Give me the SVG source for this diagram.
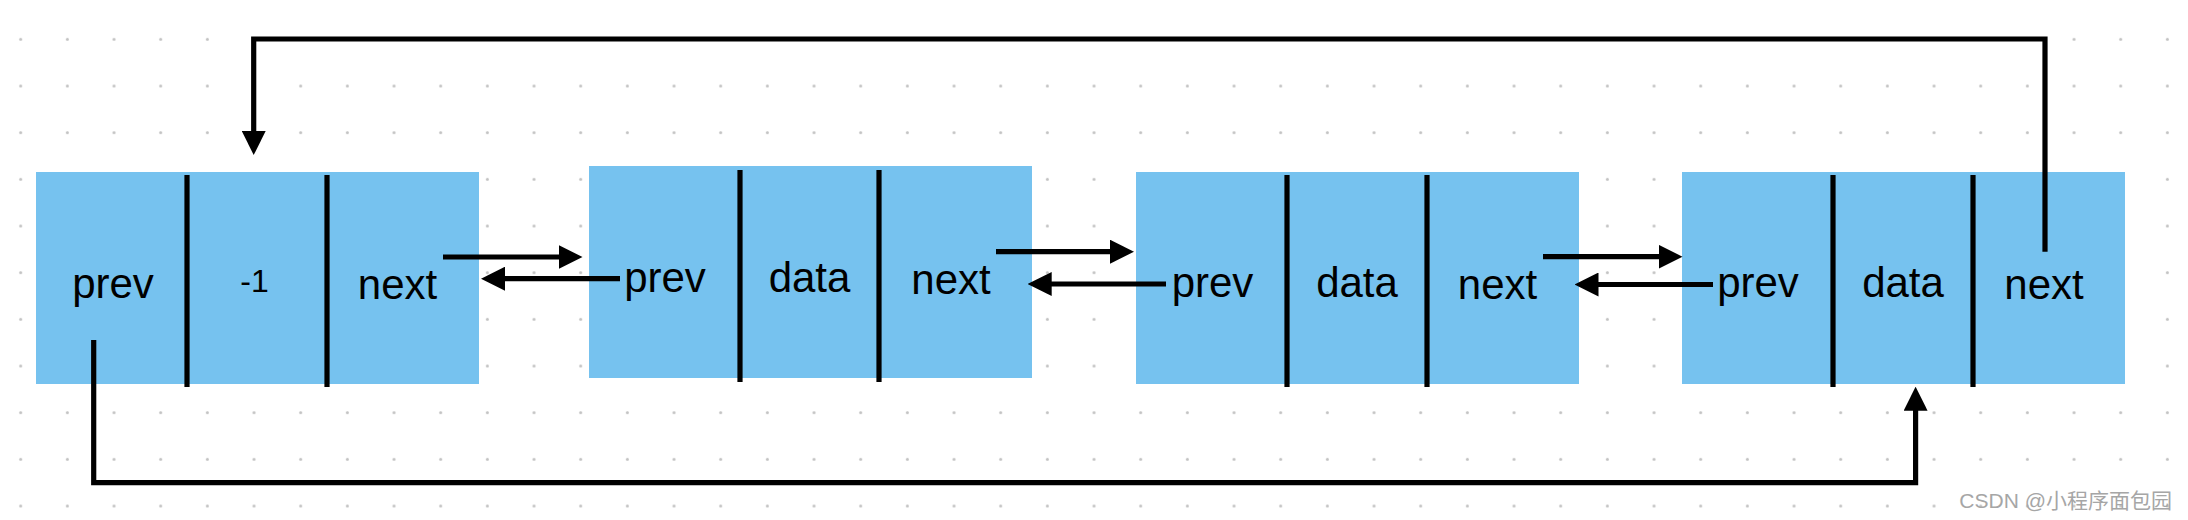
<svg xmlns="http://www.w3.org/2000/svg" width="2188" height="520" viewBox="0 0 2188 520">
  <style>
    .box { fill: #76C2EF; }
    .div { stroke: #000; stroke-width: 5.2; }
    .lbl { font-family: "Liberation Sans", Arial, sans-serif; font-size: 42px; fill: #000; text-anchor: middle; }
    .num { font-family: "Liberation Sans", Arial, sans-serif; font-size: 32px; fill: #000; text-anchor: middle; }
    .conn { fill: none; stroke: #000; stroke-width: 5.2; stroke-linejoin: miter; }
    .wm { font-family: "Liberation Sans", "Noto Sans CJK SC", sans-serif; font-size: 21px; fill: #a6a6a6; text-anchor: end; }
  </style>
  <defs>
    <pattern id="grid" patternUnits="userSpaceOnUse" x="-2.63" y="16" width="46.667" height="46.667">
      <circle cx="23.333" cy="23.333" r="1.5" fill="#c2c2c2"/>
    </pattern>
    <marker id="arr" markerUnits="userSpaceOnUse" markerWidth="24" markerHeight="24" refX="2" refY="12" orient="auto">
      <path d="M0,0 L24,12 L0,24 z" fill="#000"/>
    </marker>
  </defs>
  <rect width="2188" height="520" fill="#fff"/>
  <rect width="2188" height="520" fill="url(#grid)"/>

  <g id="node1">
    <rect class="box" x="36" y="172" width="443" height="212"/>
    <line class="div" x1="187" y1="175" x2="187" y2="387"/>
    <line class="div" x1="327" y1="175" x2="327" y2="387"/>
    <text class="lbl" x="113" y="298">prev</text>
    <text class="num" x="254.5" y="292">-1</text>
    <text class="lbl" x="397.5" y="298.5">next</text>
  </g>
  <g id="node2">
    <rect class="box" x="589" y="166" width="443" height="212"/>
    <line class="div" x1="740" y1="170" x2="740" y2="382"/>
    <line class="div" x1="879" y1="170" x2="879" y2="382"/>
    <text class="lbl" x="665" y="292">prev</text>
    <text class="lbl" x="809.5" y="292">data</text>
    <text class="lbl" x="951" y="293.5">next</text>
  </g>
  <g id="node3">
    <rect class="box" x="1136" y="172" width="443" height="212"/>
    <line class="div" x1="1287" y1="175" x2="1287" y2="387"/>
    <line class="div" x1="1427" y1="175" x2="1427" y2="387"/>
    <text class="lbl" x="1212.5" y="297">prev</text>
    <text class="lbl" x="1357" y="297">data</text>
    <text class="lbl" x="1497.5" y="299">next</text>
  </g>
  <g id="node4">
    <rect class="box" x="1682" y="172" width="443" height="212"/>
    <line class="div" x1="1833" y1="175" x2="1833" y2="387"/>
    <line class="div" x1="1973" y1="175" x2="1973" y2="387"/>
    <text class="lbl" x="1758" y="297">prev</text>
    <text class="lbl" x="1903" y="297">data</text>
    <text class="lbl" x="2044" y="298.5">next</text>
  </g>

  <g id="connectors">
    <path class="conn" d="M443 257 H560.5" marker-end="url(#arr)"/>
    <path class="conn" d="M620 278.7 H503" marker-end="url(#arr)"/>
    <path class="conn" d="M996 251.7 H1112" marker-end="url(#arr)"/>
    <path class="conn" d="M1166 284 H1049.7" marker-end="url(#arr)"/>
    <path class="conn" d="M1543 256.7 H1660.5" marker-end="url(#arr)"/>
    <path class="conn" d="M1713 284.5 H1596.5" marker-end="url(#arr)"/>
    <path class="conn" d="M2045 251.7 V39 H253.7 V133" marker-end="url(#arr)"/>
    <path class="conn" d="M93.7 340 V482.7 H1915.6 V408.7" marker-end="url(#arr)"/>
  </g>

  <text class="wm" x="2172" y="508">CSDN @小程序面包园</text>
</svg>
